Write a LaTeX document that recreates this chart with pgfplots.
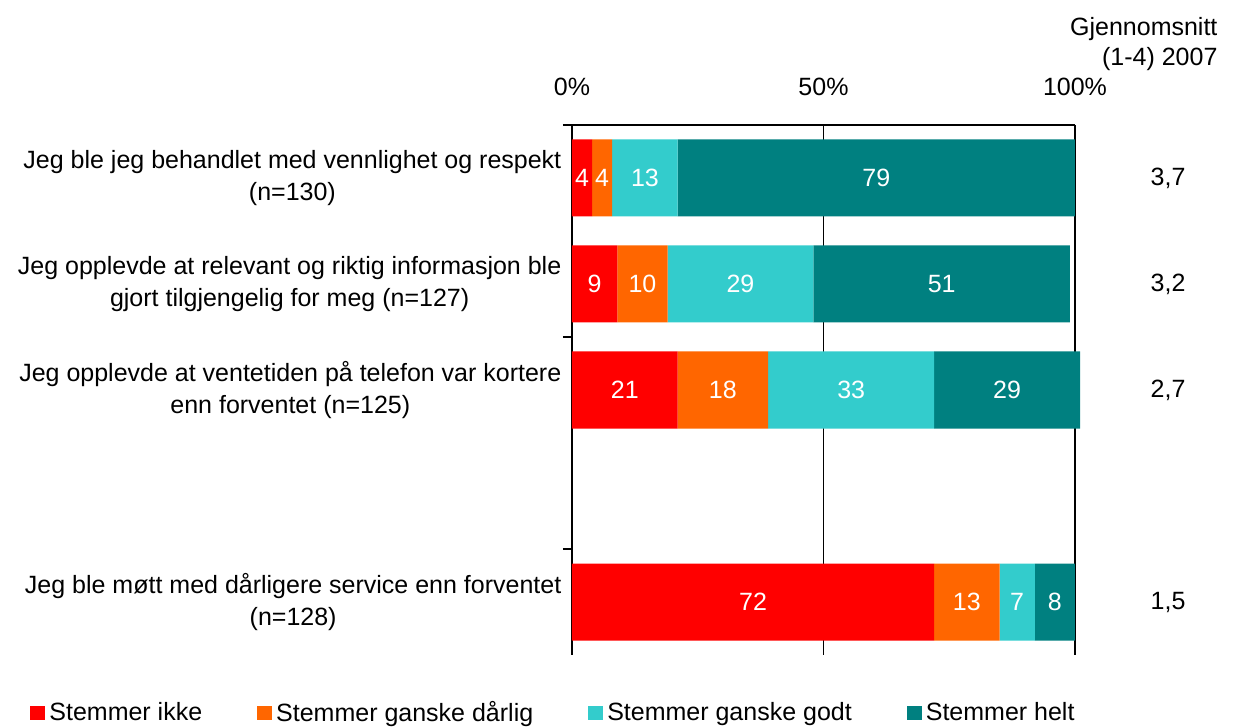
\documentclass[border=0pt]{standalone}
\usepackage{pgfplots}
\usepackage{pgfplotstable}
\pgfplotsset{compat=1.18}
\usepackage{fontspec}
\setmainfont{Liberation Sans}
\usetikzlibrary{calc}
\definecolor{cRed}{HTML}{FF0000}
\definecolor{cOrange}{HTML}{FF6600}
\definecolor{cCyan}{HTML}{33CCCC}
\definecolor{cTeal}{HTML}{008080}
\pgfplotstableread{
y v
0 4
1 9
2 21
4 72
}\tIkke
\pgfplotstableread{
y v
0 4
1 10
2 18
4 13
}\tDarlig
\pgfplotstableread{
y v
0 13
1 29
2 33
4 7
}\tGodt
\pgfplotstableread{
y v
0 79
1 51
2 29
4 8
}\tHelt
\begin{document}
\begin{tikzpicture}[font=\fontsize{12.5}{15}\selectfont]
\begin{axis}[
  name=ax,
  scale only axis,
  width=251.5pt, height=265pt,
  xbar stacked,
  bar width=38.5pt,
  xmin=0, xmax=100,
  ymin=-0.5, ymax=4.5,
  y dir=reverse,
  enlargelimits=false,
  clip=false,
  axis x line*=top,
  axis y line*=left,
  axis line style={line width=0.8pt, -},
  xtick={0,50,100},
  xticklabels={0\%,50\%,100\%},
  xmajorgrids,
  major grid style={line width=0.8pt, black},
  major tick length=0pt,
  tick align=inside,
  x tick label style={anchor=base, yshift=14.5pt, font=\fontsize{12.5}{15}\selectfont},
  ytick={0,1,2,4},
  yticklabels={{Jeg ble jeg behandlet med vennlighet og respekt\\(n=130)},
               {Jeg opplevde at relevant og riktig informasjon ble\\gjort tilgjengelig for meg (n=127)},
               {Jeg opplevde at ventetiden på telefon var kortere\\enn forventet (n=125)},
               {Jeg ble møtt med dårligere service enn forventet\\(n=128)}},
  y tick label style={align=center, anchor=east, xshift=-1.8pt, font=\fontsize{12.5}{16}\selectfont},
  extra y ticks={-0.5,1.5,3.5},
  extra y tick labels={},
  extra y tick style={major tick length=4.5pt, tick align=outside, tick style={line width=0.8pt, black}},
  /pgf/number format/assume math mode=true,
  visualization depends on={\thisrow{v} \as \rawx},
  nodes near coords={\pgfmathprintnumber{\rawx}},
  every node near coord/.append style={anchor=center, color=white, font=\fontsize{12.5}{15}\selectfont},
  legend style={at={(-1.0775,-0.1094)}, anchor=west, draw=none, legend columns=4, inner sep=0pt,
    /tikz/every even column/.append style={column sep=25.5pt}, font=\fontsize{12.5}{15}\selectfont},
  legend image code/.code={\fill[#1] (0pt,-3.5pt) rectangle (7.5pt,3.5pt);},
]
\addplot[fill=cRed, draw=none] table[x=v, y=y] {\tIkke};
\addplot[fill=cOrange, draw=none] table[x=v, y=y] {\tDarlig};
\addplot[fill=cCyan, draw=none] table[x=v, y=y] {\tGodt};
\addplot[fill=cTeal, draw=none] table[x=v, y=y] {\tHelt};
\legend{Stemmer ikke, Stemmer ganske dårlig, Stemmer ganske godt, Stemmer helt}
\node[inner sep=0pt] at (axis cs:118.5,0) {3,7};
\node[inner sep=0pt] at (axis cs:118.5,1) {3,2};
\node[inner sep=0pt] at (axis cs:118.5,2) {2,7};
\node[inner sep=0pt] at (axis cs:118.5,4) {1,5};
\node[inner sep=0pt, anchor=base east] at (axis cs:128.4,-1.34) {Gjennomsnitt};
\node[inner sep=0pt, anchor=base east] at (axis cs:128.4,-1.057) {(1-4) 2007};
\end{axis}
\pgfresetboundingbox
\path[use as bounding box] ($(ax.south west)+(-286pt,-36pt)$) rectangle ($(ax.north west)+(333pt,62.5pt)$);
\end{tikzpicture}
\end{document}
